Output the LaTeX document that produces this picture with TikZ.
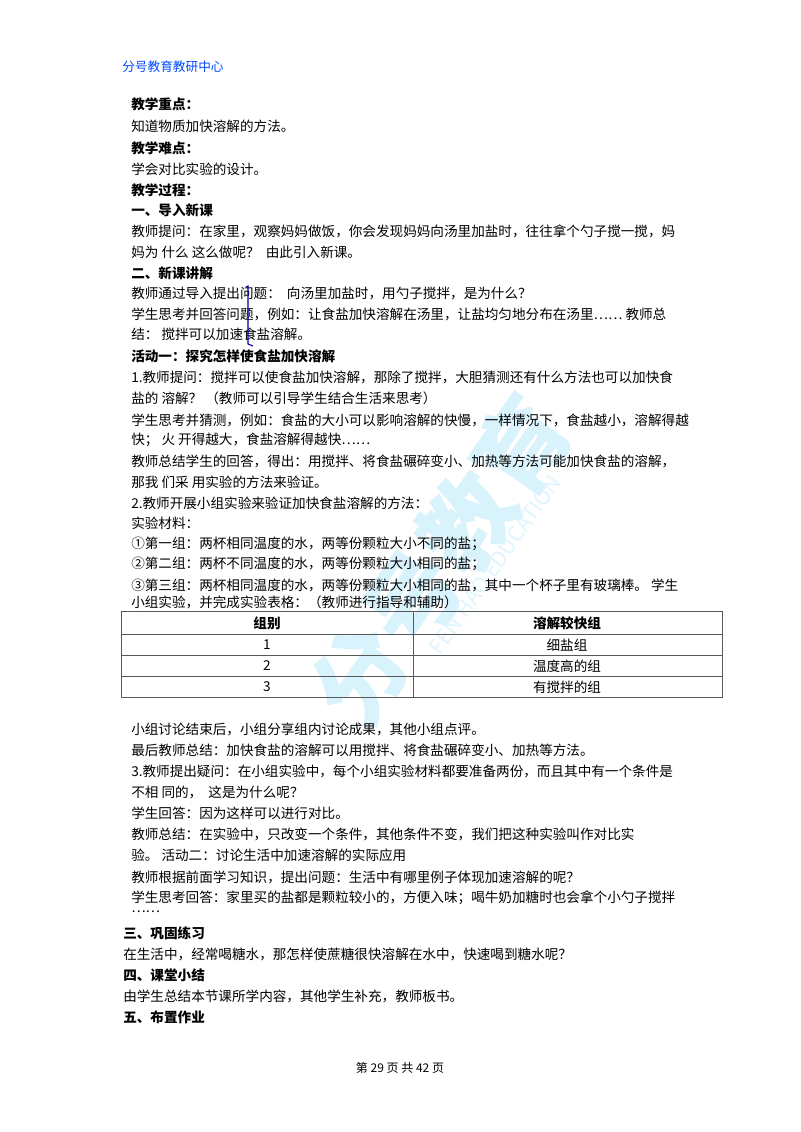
\documentclass[tikz,border=0pt]{standalone}
\usepackage{fontspec}
\setmainfont{Noto Sans CJK SC}
\begin{document}
\begin{tikzpicture}[x=0.75pt,y=-0.75pt,
  tx/.style={anchor=west,inner sep=0pt,font=\fontsize{10.2pt}{12pt}\selectfont},
  bd/.style={tx,font=\fontsize{10.2pt}{12pt}\selectfont\bfseries},
  cell/.style={inner sep=0pt,font=\fontsize{10.2pt}{12pt}\selectfont}]
\useasboundingbox[fill=white] (0,0) rectangle (800,1132);
% watermark
\node[rotate=55,text=cyan!15,font=\fontsize{70pt}{70pt}\selectfont\bfseries] (wm) at (440,560) {分号教育};
\node[rotate=55,text=cyan!12,font=\fontsize{16pt}{16pt}\selectfont] (wm2) at (495,565) {FEN HAO EDUCATION};
\node[tx,text=blue!70!cyan,font=\fontsize{9.5pt}{11pt}\selectfont] (hd) at (122,67) {分号教育教研中心};
\node[bd] (l1) at (131,104) {教学重点：};
\node[tx] (l2) at (131,126) {知道物质加快溶解的方法。};
\node[bd] (l3) at (131,148) {教学难点：};
\node[tx] (l4) at (131,169) {学会对比实验的设计。};
\node[bd] (l5) at (131,190) {教学过程：};
\node[bd] (l6) at (131,210) {一、导入新课};
\node[tx] (l7) at (131,231) {教师提问：在家里，观察妈妈做饭，你会发现妈妈向汤里加盐时，往往拿个勺子搅一搅，妈};
\node[tx] (l8) at (131,252) {妈为 什么 这么做呢？\ \ 由此引入新课。};
\node[bd] (l9) at (131,273) {二、新课讲解};
\node[tx] (l10) at (131,293) {教师通过导入提出问题：\ \ 向汤里加盐时，用勺子搅拌，是为什么？};
\node[tx] (l11) at (131,314) {学生思考并回答问题，例如：让食盐加快溶解在汤里，让盐均匀地分布在汤里……\ 教师总};
\node[tx] (l12) at (131,334) {结：\ 搅拌可以加速食盐溶解。};
\draw[blue!60!black,line width=0.8pt] (246,287) -- (248,286) -- (248,344) -- (253,346);
\node[bd] (l13) at (131,356) {活动一：探究怎样使食盐加快溶解};
\node[tx] (l14) at (131,377) {1.教师提问：搅拌可以使食盐加快溶解，那除了搅拌，大胆猜测还有什么方法也可以加快食};
\node[tx] (l15) at (131,398) {盐的 溶解？\ （教师可以引导学生结合生活来思考）};
\node[tx] (l16) at (131,420) {学生思考并猜测，例如：食盐的大小可以影响溶解的快慢，一样情况下，食盐越小，溶解得越};
\node[tx] (l17) at (131,440) {快；\ 火 开得越大，食盐溶解得越快……};
\node[tx] (l18) at (131,461) {教师总结学生的回答，得出：用搅拌、将食盐碾碎变小、加热等方法可能加快食盐的溶解，};
\node[tx] (l19) at (131,482) {那我 们采 用实验的方法来验证。};
\node[tx] (l20) at (131,503) {2.教师开展小组实验来验证加快食盐溶解的方法：};
\node[tx] (l21) at (131,523) {实验材料：};
\node[tx] (l22) at (131,544) {①第一组：两杯相同温度的水，两等份颗粒大小不同的盐；};
\node[tx] (l23) at (131,564) {②第二组：两杯不同温度的水，两等份颗粒大小相同的盐；};
\node[tx] (l24) at (131,585) {③第三组：两杯相同温度的水，两等份颗粒大小相同的盐，其中一个杯子里有玻璃棒。\ 学生};
\node[tx] (l25) at (131,602) {小组实验，并完成实验表格：（教师进行指导和辅助）};
% table
\draw[gray!70!black,line width=0.7pt] (121,611) rectangle (722,697);
\foreach \yy in {634,655,676} \draw[gray!70!black,line width=0.6pt] (121,\yy) -- (722,\yy);
\draw[gray!70!black,line width=0.6pt] (413,611) -- (413,697);
\node[cell,font=\fontsize{10.2pt}{12pt}\selectfont\bfseries] (c11) at (267,623) {组别};
\node[cell,font=\fontsize{10.2pt}{12pt}\selectfont\bfseries] (c12) at (567,623) {溶解较快组};
\node[cell] (c21) at (267,645) {1};
\node[cell] (c22) at (567,645) {细盐组};
\node[cell] (c31) at (267,666) {2};
\node[cell] (c32) at (567,666) {温度高的组};
\node[cell] (c41) at (267,687) {3};
\node[cell] (c42) at (567,687) {有搅拌的组};
\node[tx] (m1) at (131,729) {小组讨论结束后，小组分享组内讨论成果，其他小组点评。};
\node[tx] (m2) at (131,750) {最后教师总结：加快食盐的溶解可以用搅拌、将食盐碾碎变小、加热等方法。};
\node[tx] (m3) at (131,771) {3.教师提出疑问：在小组实验中，每个小组实验材料都要准备两份，而且其中有一个条件是};
\node[tx] (m4) at (131,792) {不相 同的，\ \ 这是为什么呢？};
\node[tx] (m5) at (131,813) {学生回答：因为这样可以进行对比。};
\node[tx] (m6) at (131,834) {教师总结：在实验中，只改变一个条件，其他条件不变，我们把这种实验叫作对比实};
\node[tx] (m7) at (131,855) {验。\ 活动二：讨论生活中加速溶解的实际应用};
\node[tx] (m8) at (131,877) {教师根据前面学习知识，提出问题：生活中有哪里例子体现加速溶解的呢？};
\node[tx] (m9) at (131,898) {学生思考回答：家里买的盐都是颗粒较小的，方便入味；喝牛奶加糖时也会拿个小勺子搅拌};
\node[tx] (m10) at (131,912) {……};
\node[bd] (m11) at (123,933) {三、巩固练习};
\node[tx] (m12) at (123,954) {在生活中，经常喝糖水，那怎样使蔗糖很快溶解在水中，快速喝到糖水呢？};
\node[bd] (m13) at (123,975) {四、课堂小结};
\node[tx] (m14) at (123,996) {由学生总结本节课所学内容，其他学生补充，教师板书。};
\node[bd] (m15) at (123,1017) {五、布置作业};
\node[cell,font=\fontsize{9pt}{11pt}\selectfont] (ft) at (400,1068) {第 29 页 共 42 页};
\end{tikzpicture}
\end{document}
